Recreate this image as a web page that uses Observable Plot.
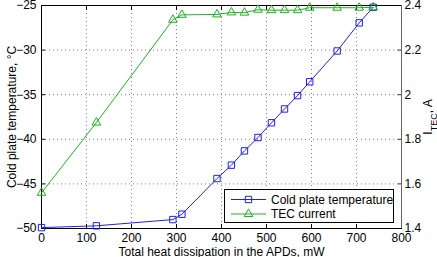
<!DOCTYPE html>
<html>
<head>
<meta charset="utf-8">
<script src="https://cdn.jsdelivr.net/npm/d3@7"></script>
<script src="https://cdn.jsdelivr.net/npm/@observablehq/plot@0.6"></script>
<style>
  html, body { margin: 0; padding: 0; background: white; }
  #chart svg { display: block; }
</style>
</head>
<body>
<div id="chart"></div>
<script>
// Data
const heatDissipation = [0, 122, 292, 312, 390, 422, 451, 481, 511, 540, 569, 596, 657, 706, 737];
const coldPlateTemp = [-49.9, -49.7, -49.0, -48.4, -44.4, -42.9, -41.3, -39.8, -38.15, -36.6, -35.1, -33.55, -30.1, -26.95, -25.2];
const tecCurrent = [1.56, 1.875, 2.336, 2.358, 2.36, 2.369, 2.368, 2.381, 2.379, 2.379, 2.379, 2.39, 2.39, 2.39, 2.392];

const xTicks = [0, 100, 200, 300, 400, 500, 600, 700, 800];
const tempTicks = [-50, -45, -40, -35, -30, -25];
const currentTicks = [1.4, 1.6, 1.8, 2.0, 2.2, 2.4];

const seriesNames = ["Cold plate temperature", "TEC current"];
const xLabel = "Total heat dissipation in the APDs, mW";
const yLabel = "Cold plate temperature, °C";
const y2Label = "I_TEC, A";

const blue = "#1f1ff0";
const green = "#1db31d";

// Right axis (current) mapped onto the temperature scale
const cMin = 1.4, cMax = 2.4, tMin = -50, tMax = -25;
const toT = c => tMin + (c - cMin) * (tMax - tMin) / (cMax - cMin);
const toC = t => cMin + (t - tMin) * (cMax - cMin) / (tMax - tMin);

const tempData = heatDissipation.map((x, i) => ({x, y: coldPlateTemp[i]}));
const currData = heatDissipation.map((x, i) => ({x, y: toT(tecCurrent[i])}));

const fmtMinus = d => d < 0 ? "\u2212" + Math.abs(d) : String(d);
const grid = {stroke: "#808080", strokeOpacity: 1, strokeDasharray: "1,3", strokeWidth: 1};

const chart = Plot.plot({
  width: 437,
  height: 257,
  marginLeft: 41,
  marginRight: 36,
  marginTop: 5,
  marginBottom: 29,
  style: {fontFamily: "'Liberation Sans', Arial, sans-serif", fontSize: "12px", color: "black", background: "white", overflow: "visible"},
  x: {domain: [0, 800]},
  y: {domain: [tMin, tMax]},
  marks: [
    Plot.gridX(xTicks.slice(1, -1), grid),
    Plot.gridY(tempTicks.slice(1, -1), grid),
    Plot.axisX(xTicks, {anchor: "bottom", tickSize: -4, tickPadding: 9, tickFormat: d => String(d), label: null, fontSize: 12}),
    Plot.axisX(xTicks, {anchor: "top", tickSize: -4, tickPadding: 9, tickFormat: () => "", label: null}),
    Plot.axisY(tempTicks, {anchor: "left", tickSize: -4, tickPadding: 9, tickFormat: fmtMinus, label: null, fontSize: 12}),
    Plot.axisY(currentTicks.map(toT), {anchor: "right", tickSize: -4, tickPadding: 7, tickFormat: t => String(+toC(t).toFixed(1)), label: null, fontSize: 12, stroke: "#333"}),
    Plot.frame({stroke: "black"}),
    Plot.ruleX([800], {stroke: "#666"}),
    Plot.line(tempData, {x: "x", y: "y", stroke: blue, strokeWidth: 1}),
    Plot.dot(tempData, {x: "x", y: "y", symbol: "square", r: 3.6, stroke: blue, fill: "none", strokeWidth: 1}),
    Plot.line(currData, {x: "x", y: "y", stroke: green, strokeWidth: 1}),
    Plot.dot(currData, {x: "x", y: "y", symbol: "triangle", r: 3.2, stroke: green, fill: "none", strokeWidth: 1}),
    Plot.text([xLabel], {frameAnchor: "bottom", dy: 24, textAnchor: "middle", lineAnchor: "middle", fontSize: 12}),
    Plot.text([yLabel], {frameAnchor: "left", dx: -29, rotate: -90, textAnchor: "middle", lineAnchor: "middle", fontSize: 12}),
    Plot.text([y2Label], {frameAnchor: "right", dx: 30, rotate: -90, textAnchor: "middle", lineAnchor: "bottom", fontSize: 12})
  ]
});

document.getElementById("chart").appendChild(chart);

// Subscript in the right axis label
d3.select(chart).selectAll("text").each(function() {
  if (this.textContent === y2Label) {
    const el = d3.select(this);
    el.text(null);
    el.append("tspan").text("I");
    el.append("tspan").attr("font-size", 9).attr("baseline-shift", "sub").text("TEC");
    el.append("tspan").attr("baseline-shift", "0").text(", A");
  }
});

// Legend box inside the plot area
const svg = d3.select(chart);
const lg = svg.append("g").attr("font-family", "'Liberation Sans', Arial, sans-serif").attr("font-size", 12)
  .attr("text-anchor", "start");
lg.append("rect").attr("x", 224.5).attr("y", 189.5).attr("width", 169).attr("height", 33)
  .attr("fill", "white").attr("stroke", "black");
const rows = [
  {name: seriesNames[0], color: blue, sym: d3.symbolSquare, size: Math.PI * 3.6 * 3.6},
  {name: seriesNames[1], color: green, sym: d3.symbolTriangle, size: Math.PI * 3.2 * 3.2}
];
rows.forEach((r, i) => {
  const cy = 199.5 + i * 14.5;
  lg.append("line").attr("x1", 231).attr("x2", 266).attr("y1", cy).attr("y2", cy).attr("stroke", r.color);
  lg.append("path").attr("d", d3.symbol(r.sym, r.size)()).attr("transform", `translate(248.5,${cy})`)
    .attr("fill", "none").attr("stroke", r.color);
  lg.append("text").attr("x", 271).attr("y", cy).attr("dy", "0.36em").attr("text-anchor", "start").text(r.name);
});
</script>
</body>
</html>
